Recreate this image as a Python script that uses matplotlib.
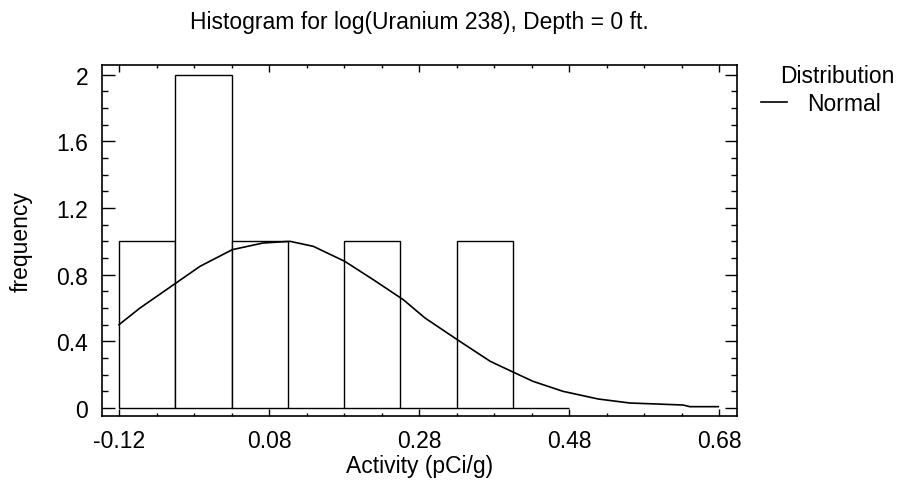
import numpy as np
import matplotlib
matplotlib.use("Agg")
import matplotlib.pyplot as plt
from matplotlib.ticker import FixedLocator, FixedFormatter

plt.rcParams['font.family'] = ['Liberation Sans', 'DejaVu Sans']

# ---- data ----
bin_edges = [-0.12, -0.045, 0.03, 0.105, 0.18, 0.255, 0.33, 0.405, 0.48]
counts = [1, 2, 1, 0, 1, 0, 1, 0]

curve_x = [-0.12, -0.092, -0.044, -0.012, 0.031, 0.072, 0.108, 0.139, 0.181,
           0.219, 0.259, 0.288, 0.331, 0.375, 0.408, 0.432, 0.472, 0.519,
           0.561, 0.632, 0.641, 0.679]
curve_y = [0.50, 0.60, 0.75, 0.85, 0.95, 0.99, 1.00, 0.97, 0.88,
           0.77, 0.65, 0.54, 0.41, 0.28, 0.21, 0.16, 0.10, 0.054,
           0.03, 0.018, 0.008, 0.008]

x_ticks = [-0.12, 0.08, 0.28, 0.48, 0.68]
x_tick_labels = ["-0.12", "0.08", "0.28", "0.48", "0.68"]
y_ticks = [0, 0.4, 0.8, 1.2, 1.6, 2.0]
y_tick_labels = ["0", "0.4", "0.8", "1.2", "1.6", "2"]

title = "Histogram for log(Uranium 238), Depth = 0 ft."
xlabel = "Activity (pCi/g)"
ylabel = "frequency"
legend_title = "Distribution"
legend_label = "Normal"

# ---- figure ----
W, H = 899, 489
fig = plt.figure(figsize=(W / 100, H / 100), dpi=100)
L, R, T, B = 102, 737, 66, 417
ax = fig.add_axes([L / W, 1 - B / H, (R - L) / W, (B - T) / H])

FS = 16.5

lefts = bin_edges[:-1]
widths = np.diff(bin_edges)
ax.bar(lefts, counts, width=widths, align='edge', facecolor='white',
       edgecolor='black', linewidth=1.0, zorder=2)
ax.plot(curve_x, curve_y, color='black', linewidth=1.2, zorder=3,
        label=legend_label)

ax.set_xlim(-0.1427, 0.704)
ax.set_ylim(-0.048, 2.058)

ax.xaxis.set_major_locator(FixedLocator(x_ticks))
ax.xaxis.set_major_formatter(FixedFormatter(x_tick_labels))
ax.xaxis.set_minor_locator(FixedLocator(np.arange(-0.12, 0.70, 0.05)))
ax.yaxis.set_major_locator(FixedLocator(y_ticks))
ax.yaxis.set_major_formatter(FixedFormatter(y_tick_labels))
ax.yaxis.set_minor_locator(FixedLocator(np.arange(0, 2.05, 0.1)))

ax.tick_params(axis='both', which='both', direction='in', top=True,
               right=True, width=1.0, labelsize=FS, colors='black')
ax.tick_params(axis='x', which='major', length=5, pad=9.5)
ax.tick_params(axis='x', which='minor', length=2.5)
ax.tick_params(axis='y', which='major', length=9, pad=10)
ax.tick_params(axis='y', which='minor', length=4.5)

for s in ax.spines.values():
    s.set_linewidth(1.2)

ax.set_title(title, fontsize=FS, pad=27)
ax.set_xlabel(xlabel, fontsize=FS)
ax.xaxis.set_label_coords(0.5, -0.108)
ax.set_ylabel(ylabel, fontsize=FS)
ax.yaxis.set_label_coords(-0.109, 0.5)

fig.text(837 / W, 1 - 83 / H, legend_title, fontsize=FS, ha='center',
         va='baseline')
ax.legend(loc='center left', bbox_to_anchor=(761 / W, 1 - 104.5 / H),
          bbox_transform=fig.transFigure, frameon=False, fontsize=FS,
          borderpad=0, borderaxespad=0, handlelength=1.15,
          handletextpad=0.85)

fig.savefig("out.png", dpi=100)
